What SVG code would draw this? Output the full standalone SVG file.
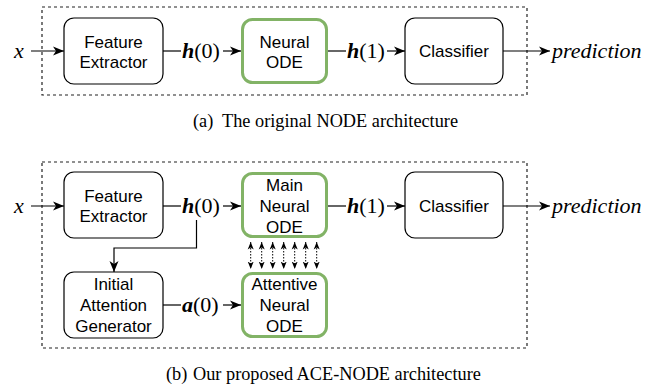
<svg xmlns="http://www.w3.org/2000/svg" width="653" height="386" viewBox="0 0 653 386">
<style>
.frame{fill:none;stroke:#222;stroke-width:1.2;stroke-dasharray:3,3}
.node{fill:#fff;stroke:#000;stroke-width:1.2}
.ode{fill:#fff;stroke:#82b366;stroke-width:3}
.lbl{font-family:"Liberation Sans",Arial,sans-serif;font-size:17px;fill:#000;text-anchor:middle}
.math{font-family:"Liberation Serif","Times New Roman",serif;font-size:22px;fill:#000}
.cap{font-family:"Liberation Serif","Times New Roman",serif;font-size:18.3px;fill:#000}
.ln{fill:none;stroke:#000;stroke-width:1.2}
.dot{fill:none;stroke:#000;stroke-width:1;stroke-dasharray:1.5,1.5}
</style>
<defs>
<marker id="ah" markerUnits="userSpaceOnUse" markerWidth="12" markerHeight="10" viewBox="0 0 12 10" refX="11" refY="5" orient="auto">
<path d="M0,0.5 L11,5 L0,9.5 L3,5 z" fill="#000"/>
</marker>
<marker id="sh" markerUnits="userSpaceOnUse" markerWidth="8" markerHeight="8" viewBox="0 0 8 8" refX="7.5" refY="4" orient="auto-start-reverse">
<path d="M0,1 L7.5,4 L0,7 L2,4 z" fill="#000"/>
</marker>
</defs>

<rect class="frame" x="42" y="7" width="485" height="88"/>
<rect class="frame" x="42" y="162" width="485" height="186"/>

<g id="connectors">
<line class="ln" x1="31" y1="51" x2="64" y2="51" marker-end="url(#ah)"/>
<line class="ln" x1="163" y1="51" x2="181" y2="51"/>
<line class="ln" x1="223" y1="51" x2="241" y2="51" marker-end="url(#ah)"/>
<line class="ln" x1="328" y1="51" x2="346" y2="51"/>
<line class="ln" x1="387" y1="51" x2="405" y2="51" marker-end="url(#ah)"/>
<line class="ln" x1="503" y1="51" x2="550" y2="51" marker-end="url(#ah)"/>

<line class="ln" x1="31" y1="206" x2="64" y2="206" marker-end="url(#ah)"/>
<line class="ln" x1="163" y1="206" x2="181" y2="206"/>
<line class="ln" x1="223" y1="206" x2="241" y2="206" marker-end="url(#ah)"/>
<line class="ln" x1="328" y1="206" x2="346" y2="206"/>
<line class="ln" x1="387" y1="206" x2="405" y2="206" marker-end="url(#ah)"/>
<line class="ln" x1="503" y1="206" x2="550" y2="206" marker-end="url(#ah)"/>
<polyline class="ln" points="196.5,220 196.5,248 114,248 114,272" marker-end="url(#ah)"/>
<line class="ln" x1="163" y1="305" x2="181" y2="305"/>
<line class="ln" x1="223" y1="305" x2="241" y2="305" marker-end="url(#ah)"/>

<line class="dot" x1="250.7" y1="242" x2="250.7" y2="269" marker-start="url(#sh)" marker-end="url(#sh)"/>
<line class="dot" x1="261.7" y1="242" x2="261.7" y2="269" marker-start="url(#sh)" marker-end="url(#sh)"/>
<line class="dot" x1="272.7" y1="242" x2="272.7" y2="269" marker-start="url(#sh)" marker-end="url(#sh)"/>
<line class="dot" x1="283.7" y1="242" x2="283.7" y2="269" marker-start="url(#sh)" marker-end="url(#sh)"/>
<line class="dot" x1="294.7" y1="242" x2="294.7" y2="269" marker-start="url(#sh)" marker-end="url(#sh)"/>
<line class="dot" x1="305.7" y1="242" x2="305.7" y2="269" marker-start="url(#sh)" marker-end="url(#sh)"/>
<line class="dot" x1="316.7" y1="242" x2="316.7" y2="269" marker-start="url(#sh)" marker-end="url(#sh)"/>

<text class="math" x="14" y="58" font-style="italic">x</text>
<text class="math" x="182" y="58"><tspan font-weight="bold" font-style="italic">h</tspan>(0)</text>
<text class="math" x="347" y="58"><tspan font-weight="bold" font-style="italic">h</tspan>(1)</text>
<text class="math" x="552" y="58" font-style="italic">prediction</text>

<text class="math" x="14" y="213" font-style="italic">x</text>
<text class="math" x="182" y="213"><tspan font-weight="bold" font-style="italic">h</tspan>(0)</text>
<text class="math" x="347" y="213"><tspan font-weight="bold" font-style="italic">h</tspan>(1)</text>
<text class="math" x="552" y="213" font-style="italic">prediction</text>
<text class="math" x="182" y="312"><tspan font-weight="bold" font-style="italic">a</tspan>(0)</text>
</g>

<g id="fe1">
<rect class="node" x="64" y="18" width="99" height="66" rx="10"/>
<text class="lbl" x="113.5" y="48">Feature</text>
<text class="lbl" x="113.5" y="68">Extractor</text>
</g>
<g id="node1">
<rect class="ode" x="242.5" y="19.5" width="84" height="63" rx="10"/>
<text class="lbl" x="284.5" y="48">Neural</text>
<text class="lbl" x="284.5" y="68">ODE</text>
</g>
<g id="cls1">
<rect class="node" x="405" y="18" width="98" height="66" rx="10"/>
<text class="lbl" x="454" y="57">Classifier</text>
</g>

<g id="fe2">
<rect class="node" x="64" y="172" width="99" height="66" rx="10"/>
<text class="lbl" x="113.5" y="202">Feature</text>
<text class="lbl" x="113.5" y="222">Extractor</text>
</g>
<g id="main">
<rect class="ode" x="242.5" y="173.5" width="84" height="63" rx="10"/>
<text class="lbl" x="284.5" y="191">Main</text>
<text class="lbl" x="284.5" y="212">Neural</text>
<text class="lbl" x="284.5" y="233">ODE</text>
</g>
<g id="cls2">
<rect class="node" x="405" y="172" width="98" height="66" rx="10"/>
<text class="lbl" x="454" y="212">Classifier</text>
</g>
<g id="iag">
<rect class="node" x="64" y="272" width="99" height="66" rx="10"/>
<text class="lbl" x="113.5" y="290">Initial</text>
<text class="lbl" x="113.5" y="311">Attention</text>
<text class="lbl" x="113.5" y="332">Generator</text>
</g>
<g id="att">
<rect class="ode" x="242.5" y="273.5" width="84" height="63" rx="10"/>
<text class="lbl" x="284.5" y="290">Attentive</text>
<text class="lbl" x="284.5" y="311">Neural</text>
<text class="lbl" x="284.5" y="332">ODE</text>
</g>

<text class="cap" x="193" y="127">(a)</text>
<text class="cap" x="222" y="127">The original NODE architecture</text>
<text class="cap" x="166" y="380">(b)</text>
<text class="cap" x="193" y="380">Our proposed ACE-NODE architecture</text>
</svg>
